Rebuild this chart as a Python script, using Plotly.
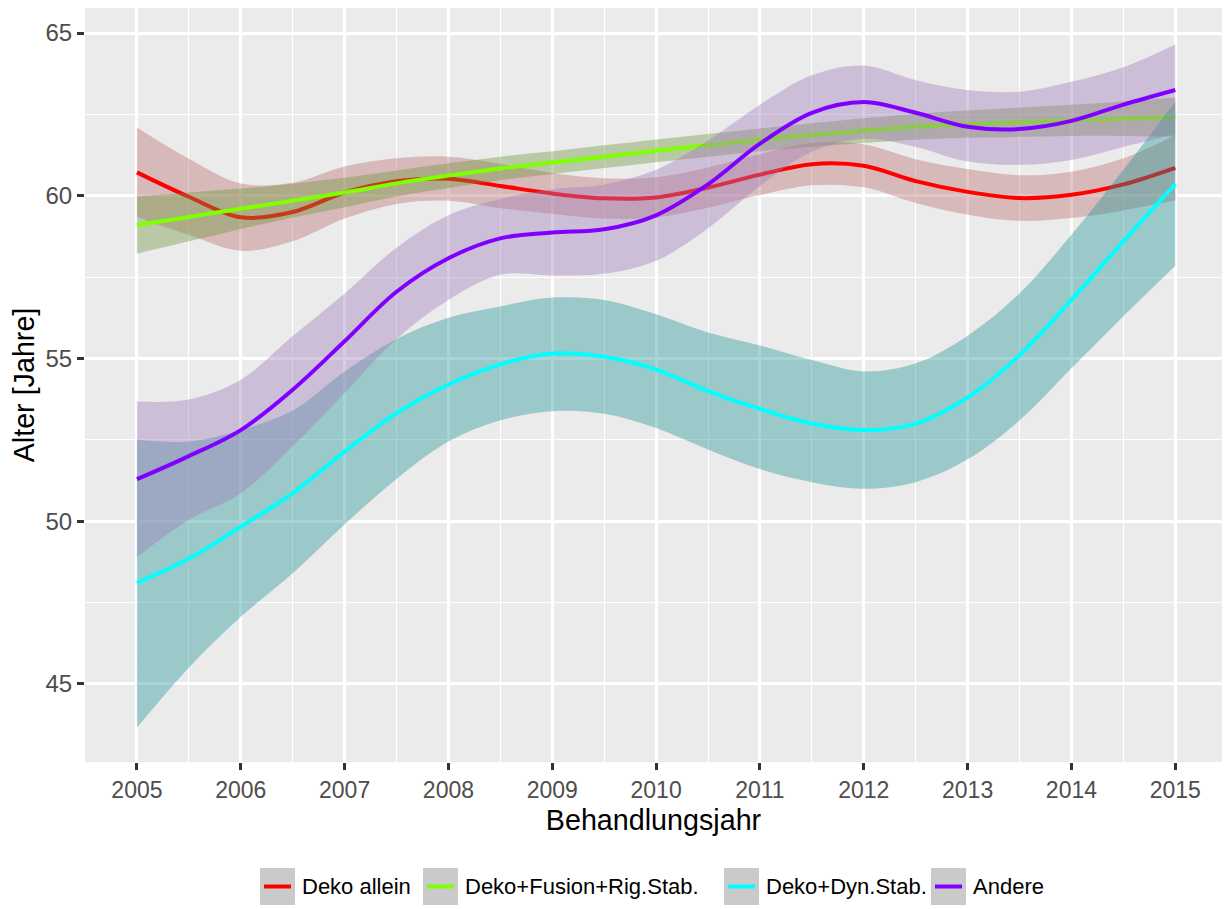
import plotly.graph_objects as go

# Behandlungsjahr grid (half-year steps) shared by all smoothers
years = [2005, 2005.5, 2006, 2006.5, 2007, 2007.5, 2008, 2008.5, 2009, 2009.5,
         2010, 2010.5, 2011, 2011.5, 2012, 2012.5, 2013, 2013.5, 2014, 2014.5, 2015]

group_names = ["Deko allein", "Deko+Fusion+Rig.Stab.", "Deko+Dyn.Stab.", "Andere"]

# Deko allein: fitted mean and confidence band
deko_fit = [60.72, 59.97, 59.34, 59.5, 60.1, 60.45, 60.52, 60.3, 60.07, 59.92,
            59.95, 60.25, 60.65, 60.97, 60.92, 60.45, 60.12, 59.93, 60.03, 60.35, 60.86]
deko_lo = [59.35, 58.8, 58.31, 58.6, 59.3, 59.75, 59.85, 59.62, 59.45, 59.3,
           59.33, 59.63, 60.02, 60.32, 60.26, 59.78, 59.42, 59.23, 59.32, 59.55, 59.86]
deko_hi = [62.1, 61.14, 60.38, 60.4, 60.9, 61.15, 61.2, 60.98, 60.7, 60.54,
           60.57, 60.87, 61.28, 61.62, 61.58, 61.12, 60.82, 60.63, 60.74, 61.15, 61.86]

# Deko+Fusion+Rig.Stab.
fus_fit = [59.1, 59.35, 59.6, 59.85, 60.1, 60.38, 60.62, 60.84, 61.02, 61.2,
           61.38, 61.55, 61.72, 61.87, 62.0, 62.12, 62.2, 62.26, 62.32, 62.37, 62.42]
fus_lo = [58.22, 58.6, 58.98, 59.33, 59.65, 59.98, 60.24, 60.48, 60.67, 60.85,
          61.03, 61.2, 61.37, 61.51, 61.62, 61.72, 61.78, 61.81, 61.84, 61.84, 61.82]
fus_hi = [59.98, 60.1, 60.22, 60.37, 60.55, 60.78, 61.0, 61.2, 61.37, 61.55,
          61.73, 61.9, 62.07, 62.23, 62.38, 62.52, 62.62, 62.71, 62.8, 62.9, 63.02]

# Deko+Dyn.Stab.
dyn_fit = [48.1, 48.85, 49.83, 50.86, 52.14, 53.32, 54.2, 54.82, 55.15, 55.05,
           54.66, 54.0, 53.45, 53.0, 52.8, 53.0, 53.8, 55.1, 56.8, 58.6, 60.36]
dyn_lo = [43.66, 45.5, 47.06, 48.4, 49.9, 51.3, 52.45, 53.1, 53.38, 53.3,
          52.86, 52.2, 51.6, 51.2, 51.0, 51.2, 51.9, 53.1, 54.7, 56.3, 57.85]
dyn_hi = [52.5, 52.45, 52.8, 53.4, 54.6, 55.6, 56.25, 56.6, 56.87, 56.8,
          56.36, 55.8, 55.4, 54.95, 54.6, 54.85, 55.7, 57.0, 58.8, 60.8, 62.9]

# Andere
and_fit = [51.29, 52.0, 52.8, 54.04, 55.53, 57.05, 58.08, 58.69, 58.87, 58.97,
           59.4, 60.35, 61.6, 62.55, 62.88, 62.55, 62.12, 62.05, 62.3, 62.8, 63.25]
and_lo = [48.9, 50.04, 50.86, 52.3, 53.94, 55.6, 56.8, 57.57, 57.55, 57.6,
          58.0, 59.0, 60.3, 61.35, 61.75, 61.5, 61.05, 60.95, 61.1, 61.5, 61.9]
and_hi = [53.68, 53.74, 54.35, 55.69, 57.0, 58.4, 59.4, 59.9, 60.2, 60.35,
          60.8, 61.7, 62.8, 63.7, 64.0, 63.55, 63.25, 63.2, 63.5, 63.95, 64.65]

line_colors = ["#FF0000", "#80FF00", "#00FFFF", "#8000FF"]
band_colors = ["rgba(185,110,110,0.4)", "rgba(110,148,60,0.4)",
               "rgba(35,147,147,0.4)", "rgba(160,122,185,0.4)"]

series = [
    (deko_fit, deko_lo, deko_hi),
    (fus_fit, fus_lo, fus_hi),
    (dyn_fit, dyn_lo, dyn_hi),
    (and_fit, and_lo, and_hi),
]

fig = go.Figure()
for name, (fit, lo, hi), lc, bc in zip(group_names, series, line_colors, band_colors):
    fig.add_trace(go.Scatter(x=years, y=lo, mode="lines", line=dict(width=0, shape="spline"),
                             hoverinfo="skip", showlegend=False))
    fig.add_trace(go.Scatter(x=years, y=hi, mode="lines", line=dict(width=0, shape="spline"),
                             fill="tonexty", fillcolor=bc, hoverinfo="skip", showlegend=False))
    fig.add_trace(go.Scatter(x=years, y=fit, mode="lines", name=name,
                             line=dict(color=lc, width=4, shape="spline"), showlegend=False))

# plot-area geometry in pixels (used for the hand-built legend below)
W, H = 1224, 909
ML, MR, MT, MB = 85, 2, 8, 147
PW, PH = W - ML - MR, H - MT - MB


def px(xp):
    return (xp - ML) / PW


def py(yp):
    return (H - MB - yp) / PH


# legend with grey key boxes underneath the plot
key_left = [260, 423, 724, 931]
key_w, key_top, key_bot = 35, 868, 905
shapes = []
annotations = []
for name, lc, kx in zip(group_names, line_colors, key_left):
    shapes.append(dict(type="rect", xref="paper", yref="paper",
                       x0=px(kx), x1=px(kx + key_w), y0=py(key_bot), y1=py(key_top),
                       fillcolor="#CACACA", line=dict(width=0), layer="above"))
    yc = py((key_top + key_bot) / 2)
    shapes.append(dict(type="line", xref="paper", yref="paper",
                       x0=px(kx + 4), x1=px(kx + key_w - 4), y0=yc, y1=yc,
                       line=dict(color=lc, width=4), layer="above"))
    annotations.append(dict(text=name, xref="paper", yref="paper",
                            x=px(kx + key_w + 5), y=yc, xanchor="left", yanchor="middle",
                            showarrow=False, font=dict(size=22, color="#000000")))

fig.update_layout(
    width=W, height=H,
    margin=dict(l=ML, r=MR, t=MT, b=MB),
    paper_bgcolor="white",
    plot_bgcolor="#EBEBEB",
    font=dict(family="Liberation Sans, Arial, sans-serif"),
    showlegend=False,
    shapes=shapes,
    annotations=annotations,
    xaxis=dict(
        range=[2004.5, 2015.45],
        tickmode="linear", tick0=2005, dtick=1,
        showgrid=True, gridcolor="white", gridwidth=2.6,
        minor=dict(showgrid=True, gridcolor="white", gridwidth=1.3, dtick=0.5, tick0=2005),
        zeroline=False, showline=False,
        ticks="outside", ticklen=7, tickwidth=2.5, tickcolor="#333333",
        tickfont=dict(size=23, color="#4D4D4D"),
        title=dict(text="Behandlungsjahr", font=dict(size=28.7, color="#000000"), standoff=8),
    ),
    yaxis=dict(
        range=[42.6, 65.77],
        tickmode="array", tickvals=[45, 50, 55, 60, 65],
        showgrid=True, gridcolor="white", gridwidth=2.6,
        minor=dict(showgrid=True, gridcolor="white", gridwidth=1.3, dtick=2.5, tick0=45),
        zeroline=False, showline=False,
        ticks="outside", ticklen=7, tickwidth=2.5, tickcolor="#333333",
        tickfont=dict(size=24, color="#4D4D4D"),
        title=dict(text="Alter [Jahre]", font=dict(size=28.7, color="#000000"), standoff=2),
    ),
)

fig.write_html("out.html")
